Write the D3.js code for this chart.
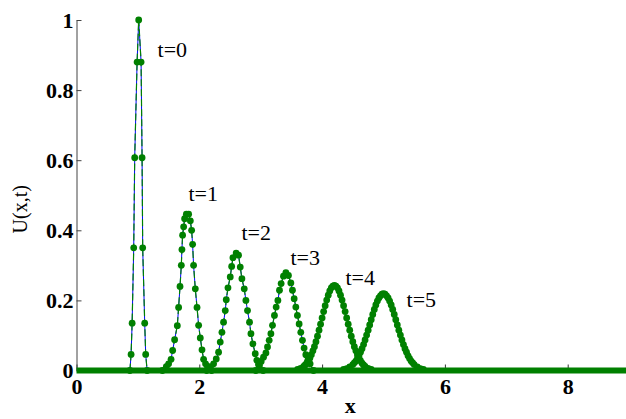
<!DOCTYPE html>
<html>
<head>
<meta charset="utf-8">
<script src="https://cdn.jsdelivr.net/npm/d3@7"></script>
<style>
  html, body { margin: 0; padding: 0; background: #fff; }
  svg { display: block; }
  svg text { font-family: "Liberation Serif", "DejaVu Serif", serif; }
  .tick text { font-weight: bold; font-size: 22px; fill: #000; }
</style>
</head>
<body>
<svg width="626" height="419"></svg>
<script>
// profiles U(x,t), one array of [x, U] per time
const u0 = [[0.87,0],[0.889,0.046],[0.906,0.135],[0.932,0.35],[0.948,0.607],[0.987,0.88],[1.013,1.0],
            [1.052,0.88],[1.068,0.607],[1.078,0.35],[1.111,0.135],[1.127,0.046],[1.15,0]];
const u1 = [[1.40,0],[1.463,0.011],[1.50,0.019],[1.54,0.032],[1.566,0.057],[1.598,0.088],[1.642,0.128],
            [1.663,0.18],[1.686,0.24],[1.707,0.30],[1.717,0.345],[1.728,0.386],[1.745,0.41],[1.761,0.433],
            [1.789,0.446],[1.826,0.446],[1.854,0.427],[1.875,0.40],[1.891,0.36],[1.907,0.30],[1.935,0.233],
            [1.963,0.18],[1.989,0.129],[2.016,0.093],[2.044,0.059],[2.07,0.032],[2.102,0.019],[2.135,0.012],[2.2,0]];
const u2 = [[2.12,0],[2.179,0.01],[2.233,0.019],[2.276,0.033],[2.314,0.052],[2.341,0.081],[2.369,0.109],
            [2.395,0.138],[2.423,0.171],[2.439,0.202],[2.467,0.236],[2.504,0.267],[2.527,0.297],[2.548,0.322],
            [2.60,0.335],[2.639,0.329],[2.667,0.295],[2.694,0.262],[2.732,0.233],[2.759,0.20],[2.785,0.171],
            [2.818,0.138],[2.841,0.105],[2.873,0.076],[2.911,0.048],[2.938,0.029],[2.98,0.014],[3.04,0]];
const u3 = [[2.92,0],[2.964,0.017],[3.008,0.026],[3.046,0.038],[3.085,0.05],[3.111,0.067],[3.138,0.086],
            [3.166,0.105],[3.192,0.129],[3.224,0.157],[3.252,0.181],[3.28,0.20],[3.306,0.229],[3.333,0.248],
            [3.371,0.269],[3.41,0.279],[3.452,0.271],[3.491,0.25],[3.517,0.229],[3.545,0.205],[3.572,0.181],
            [3.598,0.157],[3.626,0.133],[3.653,0.109],[3.68,0.086],[3.707,0.064],[3.735,0.045],[3.767,0.029],
            [3.805,0.019],[3.86,0]];
const u4 = [[3.60,0.003],[3.65,0.006],[3.70,0.012],[3.725,0.016],[3.75,0.021],[3.775,0.028],[3.80,0.035],
            [3.825,0.045],[3.85,0.056],[3.875,0.068],[3.90,0.082],[3.925,0.098],[3.95,0.115],[3.975,0.132],
            [4.00,0.150],[4.025,0.168],[4.05,0.185],[4.075,0.201],[4.10,0.215],[4.125,0.227],[4.15,0.236],
            [4.175,0.241],[4.20,0.243],[4.225,0.241],[4.25,0.236],[4.275,0.227],[4.30,0.215],[4.325,0.201],
            [4.35,0.185],[4.375,0.168],[4.40,0.150],[4.425,0.132],[4.45,0.115],[4.475,0.098],[4.50,0.082],
            [4.525,0.068],[4.55,0.056],[4.575,0.045],[4.60,0.035],[4.625,0.028],[4.65,0.021],[4.675,0.016],
            [4.70,0.012],[4.75,0.006],[4.80,0.003]];
const u5 = [[4.35,0.003],[4.40,0.005],[4.45,0.010],[4.50,0.017],[4.525,0.022],[4.55,0.027],[4.575,0.034],
            [4.60,0.042],[4.625,0.052],[4.65,0.062],[4.675,0.074],[4.70,0.087],[4.725,0.101],[4.75,0.115],
            [4.775,0.130],[4.80,0.145],[4.825,0.160],[4.85,0.174],[4.875,0.187],[4.90,0.198],[4.925,0.207],
            [4.95,0.213],[4.975,0.218],[5.00,0.219],[5.025,0.218],[5.05,0.213],[5.075,0.207],[5.10,0.198],
            [5.125,0.187],[5.15,0.174],[5.175,0.160],[5.20,0.145],[5.225,0.130],[5.25,0.115],[5.275,0.101],
            [5.30,0.087],[5.325,0.074],[5.35,0.062],[5.375,0.052],[5.40,0.042],[5.425,0.034],[5.45,0.027],
            [5.475,0.022],[5.50,0.017],[5.55,0.010],[5.60,0.005],[5.65,0.003]];

const profiles = [u0, u1, u2, u3, u4, u5];
const timeLabels = ["t=0", "t=1", "t=2", "t=3", "t=4", "t=5"];
const labelX = [1.32, 1.824, 2.687, 3.485, 4.381, 5.375];
const labelU = [0.894, 0.484, 0.372, 0.301, 0.244, 0.181];

// zero tail shared by every profile, x from/to
const zeroTail = [0, 10];

const xTicks = [0, 2, 4, 6, 8];
const yTicks = [0, 0.2, 0.4, 0.6, 0.8, 1];

const svg   = d3.select("svg"),
      green = "#008000",
      x     = d3.scaleLinear().domain([0, 10]).range([76.5, 690.5]),
      y     = d3.scaleLinear().domain([0, 1]).range([370.5, 20]);

const line = d3.line().x(d => x(d[0])).y(d => y(d[1]));

// x axis, ticks pointing in
svg.append("g")
    .attr("class", "axis axis-x")
    .attr("transform", `translate(0,${y(0)})`)
    .call(d3.axisBottom(x).tickValues(xTicks).tickFormat(d3.format("d")).tickSize(-6).tickSizeOuter(0).tickPadding(8))
    .call(g => g.selectAll("line, path").attr("stroke", "#333"));

svg.append("g")
    .attr("class", "axis axis-y")
    .attr("transform", `translate(${x(0)},0)`)
    .call(d3.axisLeft(y).tickValues(yTicks).tickFormat(d => d === 0 || d === 1 ? d : d3.format(".1f")(d)).tickSize(-5).tickSizeOuter(0).tickPadding(3))
    .call(g => g.selectAll("line, path").attr("stroke", "#444"));

// thick baseline of markers along U=0
svg.append("line")
    .attr("x1", x(zeroTail[0]))
    .attr("x2", x(zeroTail[1]))
    .attr("y1", y(0))
    .attr("y2", y(0))
    .attr("stroke", green)
    .attr("stroke-width", 6);

profiles.forEach(p => {
  svg.append("path")
      .datum(p)
      .attr("fill", "none")
      .attr("stroke", "#0000ff")
      .attr("stroke-width", 1)
      .attr("d", line);

  svg.append("path")
      .datum(p)
      .attr("fill", "none")
      .attr("stroke", green)
      .attr("stroke-width", 1.2)
      .attr("stroke-dasharray", "7,3")
      .attr("d", line);

  svg.append("g").selectAll("circle")
    .data(p)
    .enter().append("circle")
      .attr("cx", d => x(d[0]))
      .attr("cy", d => y(d[1]))
      .attr("r", 3.4)
      .attr("fill", green);
});

svg.append("g").selectAll("text")
  .data(timeLabels)
  .enter().append("text")
    .attr("x", (d, i) => x(labelX[i]))
    .attr("y", (d, i) => y(labelU[i]))
    .style("font-size", "22px")
    .text(d => d);

svg.append("text")
    .attr("transform", `translate(27,${y(0.46)}) rotate(-90)`)
    .attr("text-anchor", "middle")
    .style("font-size", "20px")
    .text("U(x,t)");

svg.append("text")
    .attr("x", x(4.46))
    .attr("y", 413)
    .attr("text-anchor", "middle")
    .style("font-size", "22px")
    .style("font-weight", "bold")
    .text("x");
</script>
</body>
</html>
